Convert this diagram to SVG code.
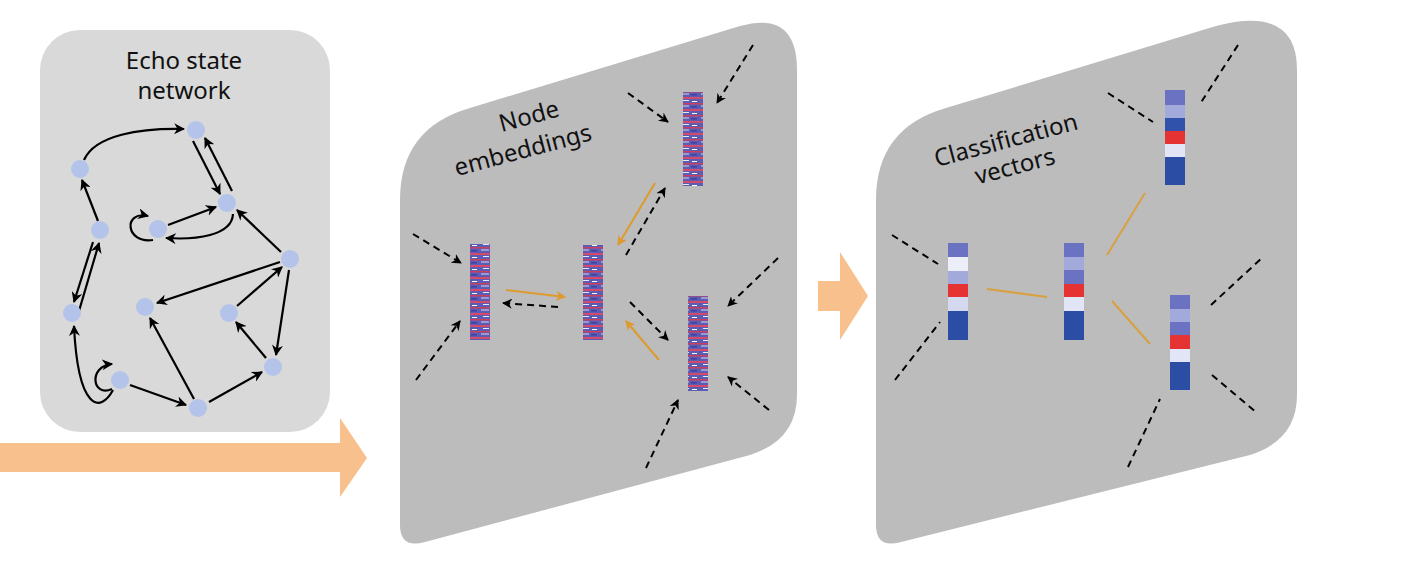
<svg xmlns="http://www.w3.org/2000/svg" width="1411" height="562" viewBox="0 0 1411 562">
<style>
.t{font-family:"Noto Sans","Liberation Sans",sans-serif;font-size:24px;fill:#111}
.n{fill:#b3c3ea}
.e{stroke:#000;stroke-width:2.2;fill:none;marker-end:url(#ah)}
.d{stroke:#000;stroke-width:2;fill:none;stroke-dasharray:7 5;marker-end:url(#ah)}
.dl{stroke:#000;stroke-width:2;fill:none;stroke-dasharray:7 5}
.o{stroke:#de9a2c;stroke-width:2;fill:none;marker-end:url(#ao)}
.ol{stroke:#d9a040;stroke-width:2;fill:none}
.panel{fill:#bcbcbc}
</style>
<defs>
<marker id="ah" viewBox="0 0 10 10" refX="9" refY="5" markerWidth="5" markerHeight="5" orient="auto" markerUnits="strokeWidth"><path d="M0,0 L10,5 L0,10 L3,5 Z" fill="#000"/></marker>
<marker id="ao" viewBox="0 0 10 10" refX="9" refY="5" markerWidth="5" markerHeight="5" orient="auto" markerUnits="strokeWidth"><path d="M0,0 L10,5 L0,10 L3,5 Z" fill="#de9a2c"/></marker>
<pattern id="emb" width="20" height="12" patternUnits="userSpaceOnUse">
<rect width="20" height="12" fill="#5b5cb4"/>
<rect y="1" width="20" height="2" fill="#d44a6a"/>
<rect x="3" y="4" width="6" height="1" fill="#e8e8f4"/>
<rect x="12" y="5" width="5" height="1" fill="#ffffff"/>
<rect y="7" width="20" height="1.5" fill="#c8405e"/>
<rect x="1" y="9.5" width="8" height="1" fill="#d8d8f0"/>
<rect x="11" y="10" width="6" height="1.5" fill="#4040a0"/>
</pattern>
</defs>

<!-- big orange arrows -->
<g id="flow1"><path d="M0,443 L340,443 L340,418 L367,458 L340,497 L340,472 L0,472 Z" fill="#f8c08c"/></g>
<g id="flow2"><path d="M818,281 L840,281 L840,252 L868,296 L840,340 L840,311 L818,311 Z" fill="#f8c08c"/></g>

<!-- Echo state network -->
<g id="esn">
<rect x="40" y="30" width="290" height="402" rx="40" fill="#d9d9d9"/>
<text class="t" x="184" y="69" text-anchor="middle">Echo state</text>
<text class="t" x="184" y="99" text-anchor="middle">network</text>
<g id="esn-edges">
<path class="e" d="M84,160 C95,135 140,128 184,129"/>
<path class="e" d="M193,141 L220,194"/>
<path class="e" d="M232,191 L205,138"/>
<path class="e" d="M153,240 C125,244 123,210 148,216"/>
<path class="e" d="M168,225 L216,207"/>
<path class="e" d="M233,214 C232,236 195,240 166,238"/>
<path class="e" d="M281,252 L237,210"/>
<path class="e" d="M98,221 L82,180"/>
<path class="e" d="M93,242 L74,302"/>
<path class="e" d="M79,311 L99,243"/>
<path class="e" d="M280,262 L157,303"/>
<path class="e" d="M237,306 L282,267"/>
<path class="e" d="M289,270 L276,355"/>
<path class="e" d="M266,358 L236,322"/>
<path class="e" d="M194,399 L150,318"/>
<path class="e" d="M130,385 L186,405"/>
<path class="e" d="M209,402 L262,372"/>
<path class="e" d="M112,389 C92,398 88,366 112,364"/>
<path class="e" d="M113,390 C100,414 78,410 74,326"/>
</g>
<g id="esn-nodes">
<circle id="nA" class="n" cx="196" cy="130" r="9"/>
<circle id="nB" class="n" cx="80" cy="169" r="9"/>
<circle id="nC" class="n" cx="227" cy="203" r="9"/>
<circle id="nD" class="n" cx="100" cy="230" r="9"/>
<circle id="nE" class="n" cx="158" cy="229" r="9"/>
<circle id="nF" class="n" cx="290" cy="259" r="9"/>
<circle id="nG" class="n" cx="72" cy="313" r="9"/>
<circle id="nH" class="n" cx="145" cy="307" r="9"/>
<circle id="nI" class="n" cx="229" cy="313" r="9"/>
<circle id="nJ" class="n" cx="120" cy="380" r="9"/>
<circle id="nK" class="n" cx="273" cy="367" r="9"/>
<circle id="nL" class="n" cx="198" cy="408" r="9"/>
</g>
</g>

<!-- Node embeddings panel -->
<g id="panel-embeddings">
<path class="panel" d="M400,200 Q400,128 470,108 L740,26 Q797,10 797,70 L797,395 Q797,440 750,455 L425,542 Q400,549 400,525 Z"/>
<text class="t" transform="translate(531,124) rotate(-15)" text-anchor="middle">Node</text>
<text class="t" transform="translate(525,158) rotate(-15)" text-anchor="middle">embeddings</text>
<rect id="emb1" x="683" y="92" width="20" height="94" fill="url(#emb)"/>
<rect id="emb2" x="470" y="244" width="20" height="96" fill="url(#emb)"/>
<rect id="emb3" x="583" y="245" width="20" height="95" fill="url(#emb)"/>
<rect id="emb4" x="688" y="296" width="20" height="95" fill="url(#emb)"/>
<g id="emb-connectors">
<path class="d" d="M628,93 L668,122"/>
<path class="d" d="M753,45 L717,103"/>
<path class="o" d="M655,183 L618,245"/>
<path class="d" d="M626,255 L665,188"/>
<path class="d" d="M413,234 L461,263"/>
<path class="d" d="M416,380 L460,321"/>
<path class="o" d="M506,290 L565,297"/>
<path class="d" d="M558,307 L503,303"/>
<path class="d" d="M630,302 L668,340"/>
<path class="o" d="M659,360 L626,321"/>
<path class="d" d="M778,258 L728,306"/>
<path class="d" d="M769,410 L728,377"/>
<path class="d" d="M646,468 L678,400"/>
</g>
</g>

<!-- Classification vectors panel -->
<g id="panel-classification">
<path class="panel" d="M876,200 Q876,128 946,108 L1216,26 Q1297,5 1297,70 L1297,395 Q1297,440 1250,455 L901,542 Q876,549 876,525 Z"/>
<text class="t" transform="translate(1008,148) rotate(-15)" text-anchor="middle">Classification</text>
<text class="t" transform="translate(1017,174) rotate(-15)" text-anchor="middle">vectors</text>
<g id="vec1">
<rect x="1165" y="90" width="20" height="15" fill="#6b72c2"/>
<rect x="1165" y="105" width="20" height="13" fill="#a2aadc"/>
<rect x="1165" y="118" width="20" height="13" fill="#3152aa"/>
<rect x="1165" y="131" width="20" height="13" fill="#e53232"/>
<rect x="1165" y="144" width="20" height="13" fill="#e2e5f5"/>
<rect x="1165" y="157" width="20" height="28" fill="#2b4da3"/>
</g>
<g id="vec2">
<rect x="948" y="243" width="20" height="14" fill="#6b72c2"/>
<rect x="948" y="257" width="20" height="14" fill="#eceef9"/>
<rect x="948" y="271" width="20" height="13" fill="#a2aadc"/>
<rect x="948" y="284" width="20" height="13" fill="#e53232"/>
<rect x="948" y="297" width="20" height="14" fill="#d5d9f0"/>
<rect x="948" y="311" width="20" height="29" fill="#2b4da3"/>
</g>
<g id="vec3">
<rect x="1064" y="243" width="20" height="14" fill="#6b72c2"/>
<rect x="1064" y="257" width="20" height="13" fill="#a2aadc"/>
<rect x="1064" y="270" width="20" height="14" fill="#6b72c2"/>
<rect x="1064" y="284" width="20" height="13" fill="#e53232"/>
<rect x="1064" y="297" width="20" height="14" fill="#e2e5f5"/>
<rect x="1064" y="311" width="20" height="29" fill="#2b4da3"/>
</g>
<g id="vec4">
<rect x="1170" y="295" width="20" height="14" fill="#6b72c2"/>
<rect x="1170" y="309" width="20" height="13" fill="#a2aadc"/>
<rect x="1170" y="322" width="20" height="13" fill="#6b72c2"/>
<rect x="1170" y="335" width="20" height="14" fill="#e53232"/>
<rect x="1170" y="349" width="20" height="13" fill="#e2e5f5"/>
<rect x="1170" y="362" width="20" height="28" fill="#2b4da3"/>
</g>
<g id="vec-connectors">
<path class="dl" d="M1108,93 L1153,122"/>
<path class="dl" d="M1238,45 L1200,104"/>
<path class="ol" d="M1145,193 L1107,255"/>
<path class="dl" d="M892,235 L938,264"/>
<path class="dl" d="M895,380 L940,322"/>
<path class="ol" d="M987,289 L1047,297"/>
<path class="ol" d="M1112,301 L1150,344"/>
<path class="dl" d="M1211,305 L1263,257"/>
<path class="dl" d="M1212,375 L1256,412"/>
<path class="dl" d="M1128,467 L1160,399"/>
</g>
</g>
</svg>
